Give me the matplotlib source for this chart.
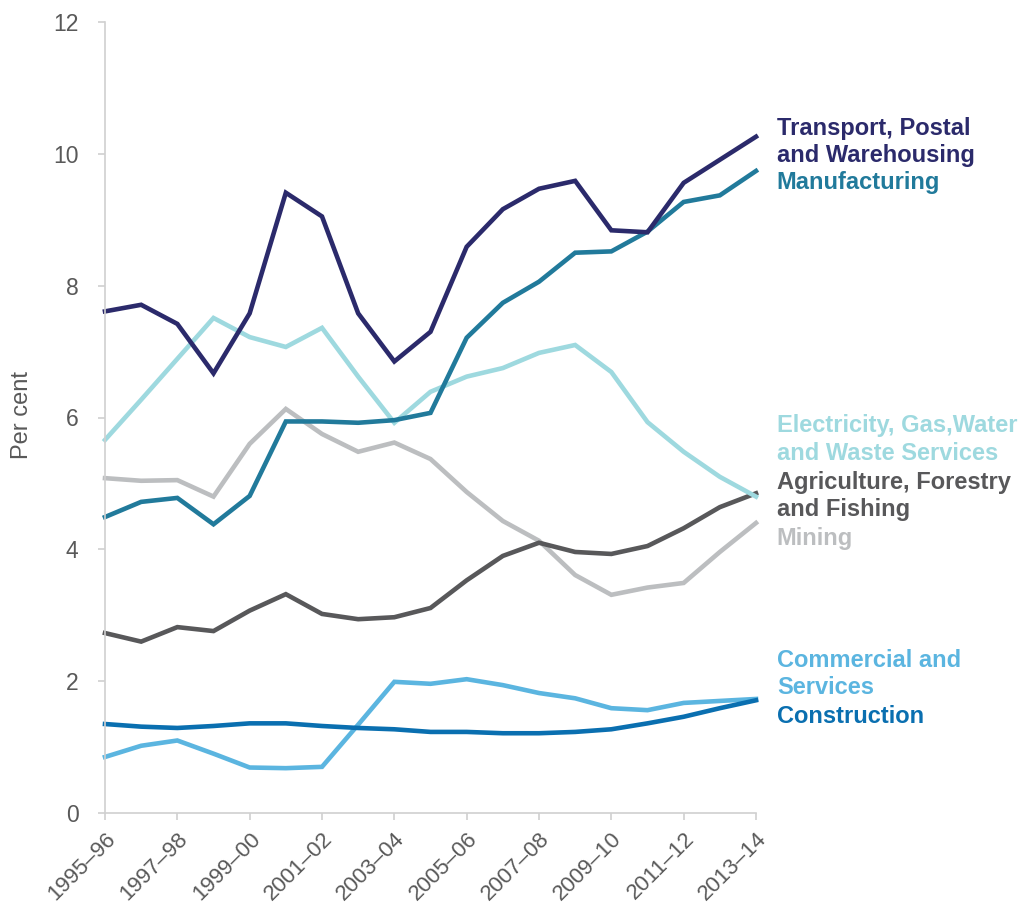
import matplotlib
matplotlib.use("Agg")
import matplotlib.pyplot as plt
from matplotlib import font_manager

years = ["1995–96", "1996–97", "1997–98", "1998–99", "1999–00", "2000–01", "2001–02",
         "2002–03", "2003–04", "2004–05", "2005–06", "2006–07", "2007–08", "2008–09",
         "2009–10", "2010–11", "2011–12", "2012–13", "2013–14"]

transport = [7.61, 7.71, 7.42, 6.67, 7.58, 9.41, 9.05, 7.58, 6.85, 7.30,
             8.59, 9.16, 9.47, 9.59, 8.84, 8.81, 9.56, 9.91, 10.26]
manufacturing = [4.49, 4.72, 4.78, 4.38, 4.81, 5.94, 5.94, 5.92, 5.96, 6.07,
                 7.21, 7.74, 8.06, 8.50, 8.52, 8.82, 9.27, 9.37, 9.74]
electricity = [5.66, 6.27, 6.89, 7.51, 7.22, 7.07, 7.36, 6.62, 5.92, 6.39,
               6.62, 6.75, 6.98, 7.10, 6.69, 5.93, 5.48, 5.10, 4.80]
agriculture = [2.73, 2.60, 2.82, 2.76, 3.07, 3.32, 3.02, 2.94, 2.97, 3.11,
               3.53, 3.90, 4.10, 3.96, 3.93, 4.05, 4.32, 4.64, 4.85]
mining = [5.08, 5.04, 5.05, 4.80, 5.60, 6.13, 5.75, 5.48, 5.62, 5.37,
          4.87, 4.43, 4.13, 3.61, 3.31, 3.42, 3.49, 3.96, 4.40]
commercial = [0.85, 1.02, 1.10, 0.90, 0.69, 0.68, 0.70, 1.34, 1.99, 1.96,
              2.03, 1.94, 1.82, 1.74, 1.59, 1.56, 1.67, 1.70, 1.73]
construction = [1.35, 1.31, 1.29, 1.32, 1.36, 1.36, 1.32, 1.29, 1.27, 1.23,
                1.23, 1.21, 1.21, 1.23, 1.27, 1.36, 1.46, 1.59, 1.71]

series = [
    ("Mining", mining, "#bcbec0"),
    ("Agriculture, Forestry\nand Fishing", agriculture, "#58585a"),
    ("Electricity, Gas,Water\nand Waste Services", electricity, "#9ed9df"),
    ("Commercial and\nServices", commercial, "#5bb5e0"),
    ("Construction", construction, "#0a6fb0"),
    ("Manufacturing", manufacturing, "#217a9b"),
    ("Transport, Postal\nand Warehousing", transport, "#2b2a6b"),
]
# label y positions (data units) for the right-hand labels
label_y = {
    "Transport, Postal\nand Warehousing": 10.18,
    "Manufacturing": 9.57,
    "Electricity, Gas,Water\nand Waste Services": 5.67,
    "Agriculture, Forestry\nand Fishing": 4.81,
    "Mining": 4.17,
    "Commercial and\nServices": 2.11,
    "Construction": 1.46,
}

installed = {f.name for f in font_manager.fontManager.ttflist}
base = "Liberation Sans" if "Liberation Sans" in installed else "DejaVu Sans"
narrow = "Liberation Sans Narrow" if "Liberation Sans Narrow" in installed else base
plt.rcParams["font.family"] = [base, "DejaVu Sans"]

fig = plt.figure(figsize=(10.26, 9.11), dpi=100)
ax = fig.add_axes([105 / 1026, 1 - 813 / 911, (756 - 105) / 1026, (813 - 22) / 911])

x = list(range(len(years)))
for name, vals, col in series:
    ax.plot(x, vals, color=col, lw=3.3, solid_joinstyle="miter", clip_on=False)

ax.set_xlim(0, len(years) - 1)
ax.set_ylim(0, 12)
ax.set_yticks(range(0, 13, 2))
ax.set_xticks(x[::2])
ax.set_xticklabels(years[::2], rotation=45, ha="right", va="top", rotation_mode="anchor")

spine_col = "#d0d0d0"
for s in ["top", "right"]:
    ax.spines[s].set_visible(False)
for s in ["left", "bottom"]:
    ax.spines[s].set_color(spine_col)
    ax.spines[s].set_linewidth(1.2)
ax.tick_params(axis="both", colors=spine_col, length=5, width=1.2, labelcolor="#595959")
ax.tick_params(axis="y", labelsize=16.5, pad=14)
ax.tick_params(axis="x", labelsize=16, pad=6)

fig.text(22 / 1026, 1 - 415 / 911, "Per cent", rotation=90, ha="center", va="center",
         fontsize=17, color="#595959", family=[narrow, "DejaVu Sans"])

for name, vals, col in series:
    ax.annotate(name, xy=(len(years) - 1, label_y[name]), xytext=(15, 0),
                textcoords="offset points", xycoords="data", va="center", ha="left",
                fontsize=17, fontweight="bold", color=col, linespacing=1.25,
                annotation_clip=False)

fig.savefig("out.png", dpi=100, facecolor="white")
